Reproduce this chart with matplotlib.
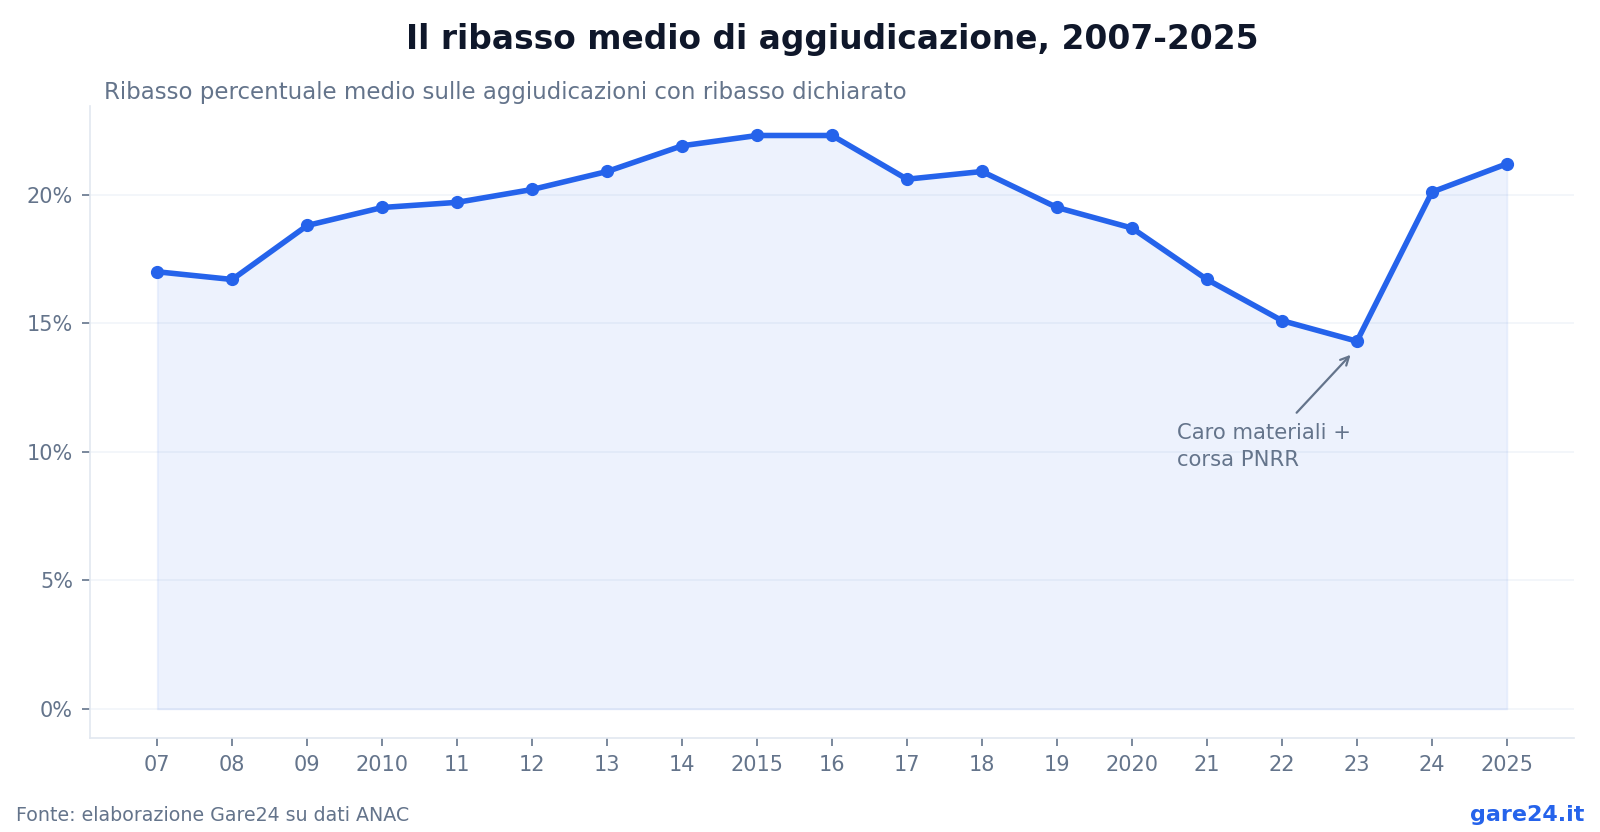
import matplotlib
matplotlib.use("Agg")
import matplotlib.pyplot as plt
from matplotlib.ticker import FuncFormatter

# --- Data ---
years = ["07", "08", "09", "2010", "11", "12", "13", "14", "2015", "16",
         "17", "18", "19", "2020", "21", "22", "23", "24", "2025"]
ribasso = [17.0, 16.7, 18.8, 19.5, 19.7, 20.2, 20.9, 21.9, 22.3, 22.3,
           20.6, 20.9, 19.5, 18.7, 16.7, 15.1, 14.3, 20.1, 21.2]
y_ticks = [0, 5, 10, 15, 20]

BLUE = "#2563eb"
GREY = "#64748b"
DARK = "#0f172a"
LIGHT = "#e2e8f0"

plt.rcParams["font.family"] = ["DejaVu Sans"]

fig = plt.figure(figsize=(16, 8.32), dpi=100)
ax = fig.add_axes([0.0561, 0.113, 0.9279, 0.760])

x = list(range(len(years)))
ax.fill_between(x, ribasso, 0, color=BLUE, alpha=0.08, linewidth=1.2, edgecolor=(0.145, 0.388, 0.922, 0.08))
ax.plot(x, ribasso, color=BLUE, linewidth=4, marker="o", markersize=8.5, zorder=3)

ax.set_xlim(-0.9, 18.9)
ax.set_ylim(-1.13, 23.46)
ax.set_xticks(x)
ax.set_xticklabels(years)
ax.set_yticks(y_ticks)
ax.yaxis.set_major_formatter(FuncFormatter(lambda v, _: f"{v:.0f}%"))

ax.grid(axis="y", color="#f1f5f9", linewidth=1.2)
ax.set_axisbelow(True)
for side in ["top", "right"]:
    ax.spines[side].set_visible(False)
for side in ["left", "bottom"]:
    ax.spines[side].set_color(LIGHT)
    ax.spines[side].set_linewidth(1.2)
ax.tick_params(axis="both", colors=GREY, labelsize=15, length=6, width=1.2, pad=6)

# --- Annotation ---
ax.annotate("", xy=(15.94, 13.85), xytext=(15.17, 11.44),
            arrowprops=dict(arrowstyle="->", color=GREY, lw=1.6, mutation_scale=15))
ax.text(13.6, 11.1, "Caro materiali +\ncorsa PNRR", color=GREY, fontsize=15.2,
        va="top", ha="left", linespacing=1.38)

# --- Titles & footer ---
ax_mid = 0.0561 + 0.9279 / 2
fig.text(ax_mid, 0.953, "Il ribasso medio di aggiudicazione, 2007-2025", ha="center", va="center",
         fontsize=23.7, fontweight="bold", color=DARK)
fig.text(0.065, 0.889, "Ribasso percentuale medio sulle aggiudicazioni con ribasso dichiarato",
         ha="left", va="center", fontsize=16.5, color=GREY)
fig.text(0.01, 0.02, "Fonte: elaborazione Gare24 su dati ANAC", ha="left", va="center",
         fontsize=13.7, color=GREY)
fig.text(0.99, 0.02, "gare24.it", ha="right", va="center", fontsize=16,
         fontweight="bold", color=BLUE)

fig.savefig("out.png", dpi=100)
